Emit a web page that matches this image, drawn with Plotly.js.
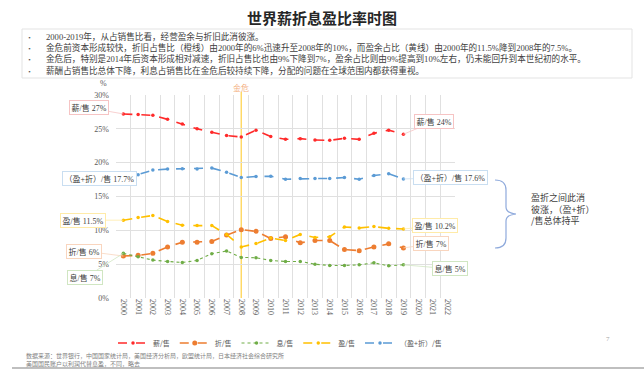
<!DOCTYPE html>
<html>
<head>
<meta charset="utf-8">
<script src="https://cdn.plot.ly/plotly-3.0.1.min.js"></script>
<style>html,body{margin:0;padding:0;background:#fff;}#chart{width:644px;height:379px;}</style>
</head>
<body>
<div id="chart"></div>
<script>
// ---- data ----
const years = ["2000","2001","2002","2003","2004","2005","2006","2007","2008","2009","2010","2011","2012","2013","2014","2015","2016","2017","2018","2019","2020","2021","2022"];
const wageShare = [27.2, 27.1, 27.0, 26.4, 25.7, 25.0, 24.5, 24.0, 23.8, 24.8, 23.85, 23.45, 23.55, 23.35, 23.3, 23.6, 23.45, 24.35, 24.8, 24.2];
const deprShare = [6.2, 6.3, 6.6, 7.55, 8.25, 8.25, 8.35, 9.3, 10.1, 9.85, 8.8, 9.05, 8.15, 8.5, 8.5, 7.15, 7.0, 7.55, 8.0, 7.4];
const interestShare = [6.6, 6.1, 5.6, 5.4, 5.25, 5.55, 6.55, 6.95, 6.0, 5.95, 5.55, 5.4, 5.4, 5.0, 4.8, 4.8, 4.9, 5.2, 4.75, 4.9];
const surplusShare = [11.5, 11.9, 12.2, 11.3, 10.75, 10.7, 10.7, 9.4, 7.55, 8.05, 8.85, 8.5, 9.4, 8.95, 9.05, 10.5, 10.35, 10.55, 10.3, 10.2];
const surplusDeprShare = [17.6, 18.2, 18.9, 19.05, 19.1, 19.05, 19.2, 18.6, 17.8, 17.95, 18.0, 17.55, 17.65, 17.65, 17.65, 17.8, 17.55, 18.1, 18.35, 17.6];
const seriesNames = ["薪/售", "折/售", "息/售", "盈/售", "（盈+折）/售"];
const startLabels = ["薪/售 27%", "折/售 6%", "息/售 7%", "盈/售 11.5%", "（盈+折）/售 17.7%"];
const endLabels = ["薪/售 24%", "折/售 7%", "息/售 5%", "盈/售 10.2%", "（盈+折）/售 17.6%"];
const crisisYear = "2008";
const crisisLabel = "金危";
const titleText = "世界薪折息盈比率时图";
const bullets = [
  "2000-2019年，从占销售比看，经营盈余与折旧此消彼涨。",
  "金危前资本形成较快，折旧占售比（橙线）由2000年的6%迅速升至2008年的10%，而盈余占比（黄线）由2000年的11.5%降到2008年的7.5%。",
  "金危后，特别是2014年后资本形成相对减速，折旧占售比也由9%下降到7%，盈余占比则由9%提高到10%左右，仍未能回升到本世纪初的水平。",
  "薪酬占销售比总体下降，利息占销售比在金危后较持续下降，分配的问题在全球范围内都获得重视。"
];
const braceText = "盈折之间此消<br>彼涨，（盈+折）<br>/售总体持平";
const sourceLines = [
  "数据来源：世界银行，中国国家统计局，美国经济分析局，欧盟统计局，日本经济社会综合研究所",
  "美国国民账户以利润代替息盈，不同，略去"
];

// ---- styling ----
const serif = "Liberation Serif, Noto Sans CJK SC, serif";
const cjk = "Noto Sans CJK SC, sans-serif";
const L = 116, R = 455, T = 95, B = 298;
const px = x => (x - L) / (R - L);
const py = y => (B - y) / (B - T);

const allSeries = [wageShare, deprShare, interestShare, surplusShare, surplusDeprShare];
const colors = ["#FF2A2A", "#ED7D31", "#70AD47", "#FFC000", "#5B9BD5"];
const borders = ["#F6C4C4", "#F9D5BE", "#D0E6C2", "#FFEBA8", "#C9DEF1"];
const dashes = ["dash", "dash", "dot", "dash", "dash"];
const widths = [1.6, 1.6, 1.1, 1.6, 1.6];
const msizes = [3.5, 5, 3.5, 3.5, 3.5];

const traces = [{
  x: years, y: years.map(() => null), mode: "lines", showlegend: false, hoverinfo: "skip"
}];
allSeries.forEach((s, i) => {
  traces.push({
    x: years.slice(0, s.length), y: s, name: seriesNames[i], type: "scatter", mode: "lines+markers",
    line: {color: colors[i], width: widths[i], dash: dashes[i]},
    marker: {color: colors[i], size: msizes[i]}
  });
});

// label offsets (pixels) from first / last point
const startOff = [[-34, -6], [-39, -5], [-38, 24], [-40, 0], [-24, 0]];
const endOff = [[31, -13], [28, -4], [47, 4], [32, -3], [47, -1]];
const annotations = [];
allSeries.forEach((s, i) => {
  const lastIdx = s.length - 1;
  annotations.push({
    x: 0, y: s[0], xref: "x", yref: "y", text: startLabels[i],
    showarrow: true, arrowhead: 0, arrowwidth: 0.8,
    arrowcolor: i === 4 ? "rgba(0,0,0,0)" : borders[i],
    ax: startOff[i][0], ay: startOff[i][1],
    font: {family: serif, size: 8, color: "#404040"},
    bgcolor: "#ffffff", bordercolor: borders[i], borderwidth: 1, borderpad: 1.5
  });
  annotations.push({
    x: lastIdx, y: s[lastIdx], xref: "x", yref: "y", text: endLabels[i],
    showarrow: true, arrowhead: 0, arrowwidth: 0.8, arrowcolor: borders[i],
    ax: endOff[i][0], ay: endOff[i][1],
    font: {family: serif, size: 8, color: "#404040"},
    bgcolor: "#ffffff", bordercolor: borders[i], borderwidth: 1, borderpad: 1.5
  });
});
const crisisIdx = years.indexOf(crisisYear);
annotations.push({
  x: crisisIdx, y: py(88), xref: "x", yref: "paper", text: crisisLabel, showarrow: false,
  font: {family: cjk, size: 8, color: "#F4B183"}, yanchor: "middle"
});
annotations.push({
  x: px(98), y: py(83), xref: "paper", yref: "paper", text: "%", showarrow: false, yanchor: "middle",
  font: {family: serif, size: 8, color: "#595959"}
});
bullets.forEach((b, i) => {
  const yy = 36 + i * 11.4;
  annotations.push({x: px(30), y: py(yy), xref: "paper", yref: "paper", text: "▪", showarrow: false,
    xanchor: "center", yanchor: "middle", font: {family: cjk, size: 5, color: "#595959"}});
  annotations.push({x: px(44), y: py(yy), xref: "paper", yref: "paper", text: b, showarrow: false,
    xanchor: "left", yanchor: "middle", font: {family: serif, size: 8.6, color: "#404040"}});
});
annotations.push({
  x: px(529), y: py(209), xref: "paper", yref: "paper", text: braceText, showarrow: false,
  xanchor: "left", yanchor: "middle", align: "left",
  font: {family: cjk, size: 9, color: "#404040"}
});
sourceLines.forEach((t, i) => {
  annotations.push({x: px(24), y: py(355 + i * 8), xref: "paper", yref: "paper", text: t, showarrow: false,
    xanchor: "left", yanchor: "middle", font: {family: cjk, size: 6, color: "#7f7f7f"}});
});
annotations.push({x: px(612), y: py(345), xref: "paper", yref: "paper", text: "7", showarrow: false,
  font: {family: serif, size: 7, color: "#a6a6a6"}});

const brace = `M ${px(495)} ${py(180)} Q ${px(506)} ${py(180)} ${px(506)} ${py(190)} L ${px(506)} ${py(207)} Q ${px(506)} ${py(213)} ${px(516)} ${py(214)} Q ${px(506)} ${py(215)} ${px(506)} ${py(221)} L ${px(506)} ${py(238)} Q ${px(506)} ${py(248)} ${px(495)} ${py(248)}`;
const shapes = [
  {type: "line", xref: "x", yref: "paper", x0: crisisIdx, x1: crisisIdx, y0: 0, y1: 1.015,
   line: {color: "#FFD966", width: 1.5}, layer: "below"},
  {type: "rect", xref: "paper", yref: "paper", x0: px(22), x1: px(632), y0: py(29), y1: py(78),
   line: {color: "#e3e3e3", width: 1}},
  {type: "path", xref: "paper", yref: "paper", path: brace, line: {color: "#8FAADC", width: 1.2}},
  {type: "line", xref: "paper", yref: "paper", x0: px(12), x1: px(644), y0: py(368), y1: py(368),
   line: {color: "#bfbfbf", width: 2}}
];

const layout = {
  width: 644, height: 379,
  margin: {l: L, r: 644 - R, t: T, b: 379 - B},
  paper_bgcolor: "#ffffff", plot_bgcolor: "#ffffff",
  title: {text: titleText, x: 0.5, xref: "container", y: 1 - 19 / 379, yref: "container", yanchor: "middle",
    font: {family: cjk, size: 15, color: "#262626", weight: "bold"}},
  xaxis: {type: "category", categoryorder: "array", categoryarray: years, range: [-0.5, years.length - 0.5],
    tickson: "boundaries", showgrid: true, gridcolor: "#e0e0e0", gridwidth: 1, ticks: "", tickangle: 90,
    showline: false, zeroline: false, tickfont: {family: serif, size: 8, color: "#595959"}, fixedrange: true},
  yaxis: {range: [0, 30], dtick: 5, ticksuffix: "%", showgrid: true, gridcolor: "#e0e0e0", gridwidth: 1,
    zeroline: false, showline: false, ticks: "", ticklabelstandoff: 6,
    tickfont: {family: serif, size: 8, color: "#595959"}, fixedrange: true},
  showlegend: true,
  legend: {orientation: "h", x: px(280), xanchor: "center", y: py(343), yanchor: "middle",
    font: {family: cjk, size: 7, color: "#595959"}, itemwidth: 30, tracegroupgap: 0, bgcolor: "rgba(0,0,0,0)"},
  annotations: annotations,
  shapes: shapes
};

Plotly.newPlot("chart", traces, layout, {displayModeBar: false, staticPlot: true});
</script>
</body>
</html>
